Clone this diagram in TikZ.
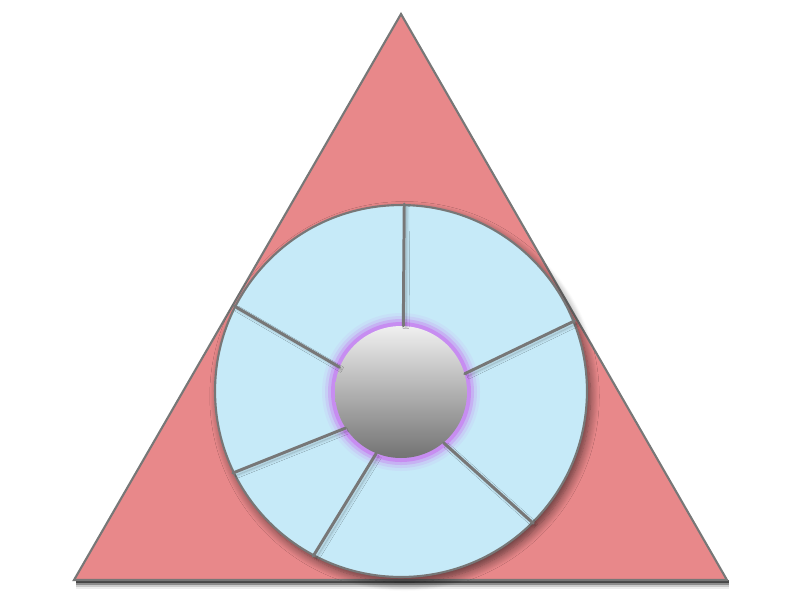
\documentclass[tikz,border=0pt]{standalone}
\usepackage{tikz}
\usetikzlibrary{shadows.blur,calc}
\usepackage{xcolor}
\definecolor{PrismRose}{HTML}{E8888A}
\definecolor{PrismSky}{HTML}{C6EAF8}
\definecolor{PrismEdge}{HTML}{777777}
\definecolor{PrismGlow}{HTML}{C870F0}

\begin{document}
\begin{tikzpicture}[x=0.02cm,y=-0.02cm,
    rim/.style={circle,draw=PrismEdge,line width=1.2pt,fill=PrismSky,minimum size=7.44cm,inner sep=0pt,blur shadow={shadow xshift=2pt,shadow yshift=-3pt,shadow blur radius=5pt,shadow blur steps=10,shadow opacity=60}},
    ball/.style={circle,minimum size=2.64cm,inner sep=0pt,top color=black!6,bottom color=black!55,shading angle=0},
    spoke/.style={PrismEdge,line width=1.7pt,line cap=round,blur shadow={shadow xshift=1.5pt,shadow yshift=-1.5pt,shadow blur steps=5,shadow opacity=30}}]
  \useasboundingbox (0,0) rectangle (800,600);
  % triangle
  \coordinate (top) at (401,14);
  \coordinate (bl) at (74,580);
  \coordinate (br) at (727,580);
  \foreach \d/\o in {3/0.5,5/0.3,7/0.15,9/0.07}{\fill[black,opacity=\o] ($(bl)+(2,0)$) rectangle ($(br)+(2,\d)$);}
  \draw[fill=PrismRose,draw=PrismEdge,line width=1.2pt,line join=miter] (top) -- (br) -- (bl) -- cycle;
  % wheel
  \node[rim] (wheel) at (401,391) {};
  \foreach \r/\o in {79/0.08,76/0.15,73/0.3,70/0.55}{\fill[PrismGlow,opacity=\o] (401,392) circle (\r);}
  \node[ball] (hub) at (401,392) {};
  \foreach \a/\b in {88/89,16/22,-50/-45,-112/-118,213/206,158/153}{\draw[spoke] (hub.\a) -- (wheel.\b);}
\end{tikzpicture}
\end{document}
